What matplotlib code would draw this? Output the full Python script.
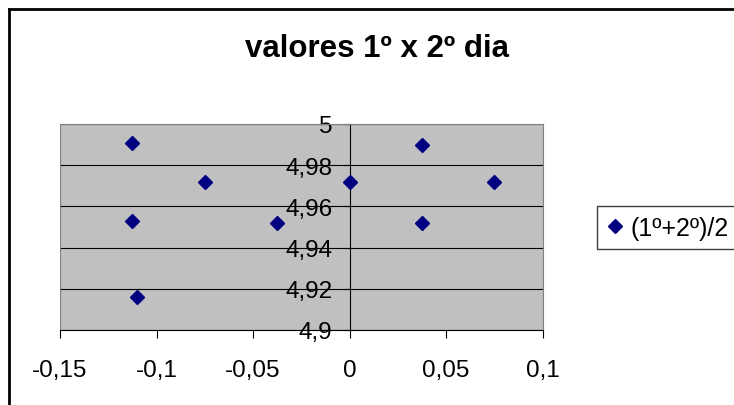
import matplotlib
matplotlib.use('Agg')
import matplotlib.pyplot as plt
from matplotlib.lines import Line2D
from matplotlib.patches import Rectangle

plt.rcParams['font.family'] = ['Liberation Sans', 'DejaVu Sans']

# data
x_vals = [-0.1125, -0.075, 0.0, -0.1125, -0.0375, -0.11, 0.0375, 0.075, 0.0375]
y_vals = [4.991, 4.972, 4.972, 4.953, 4.952, 4.916, 4.990, 4.972, 4.952]
serie = '(1º+2º)/2'
titulo = 'valores 1º x 2º dia'

x_ticks = [-0.15, -0.1, -0.05, 0, 0.05, 0.1]
x_labels = ['-0,15', '-0,1', '-0,05', '0', '0,05', '0,1']
y_ticks = [4.9, 4.92, 4.94, 4.96, 4.98, 5]
y_labels = ['4,9', '4,92', '4,94', '4,96', '4,98', '5']

fig = plt.figure(figsize=(7.34, 4.06), dpi=100)
fig.patch.set_facecolor('white')
ax = fig.add_axes([60 / 734, 1 - 331 / 406, 482.7 / 734, 206 / 406])
ax.set_facecolor('#C0C0C0')

ax.plot(x_vals, y_vals, linestyle='none', marker='D', markersize=7,
        color='#000080', label=serie, zorder=5)

# y axis crosses at x = 0 (set before the ticks, it resets them)
ax.spines['left'].set_position(('data', 0))
ax.spines['left'].set_color('black')
ax.spines['left'].set_linewidth(0.8)
ax.spines['bottom'].set_color('black')
ax.spines['bottom'].set_linewidth(0.8)
ax.spines['top'].set_color('#808080')
ax.spines['right'].set_color('#808080')
ax.axvline(-0.15, color='#808080', linewidth=1.5, zorder=3)

ax.set_xlim(-0.15, 0.1)
ax.set_ylim(4.9, 5)
ax.set_xticks(x_ticks)
ax.set_xticklabels(x_labels)
ax.set_yticks(y_ticks)
ax.set_yticklabels(y_labels)
ax.tick_params(axis='y', direction='out', length=4, width=0.8, pad=8.5, labelsize=17.5)
ax.tick_params(axis='x', direction='out', length=6, width=0.8, pad=15, labelsize=17.5)

ax.grid(axis='y', color='black', linewidth=0.8, zorder=1)
ax.set_axisbelow(True)

fig.text(0.513, 1 - 56.7 / 406, titulo, ha='center', va='baseline',
         fontsize=22.5, fontweight='bold')

leg = fig.legend(loc='center left', bbox_to_anchor=(607 / 734, 1 - 229 / 406),
                 fontsize=18, frameon=False, borderpad=0,
                 handlelength=0.6, handletextpad=0.35, borderaxespad=0)
# legend box runs off the right edge, as in the cropped original
fig.add_artist(Rectangle((597 / 734, 1 - 250 / 406), 200 / 734, 43 / 406,
                         transform=fig.transFigure, facecolor='none',
                         edgecolor='#404040', linewidth=1.0))

# outer chart frame (cropped on the right and bottom)
fig.add_artist(Line2D([9 / 734, 9 / 734], [0, 1 - 10 / 406], color='black', linewidth=2))
fig.add_artist(Line2D([9 / 734, 1], [1 - 10 / 406, 1 - 10 / 406], color='black', linewidth=2))

fig.savefig('out.png', dpi=100)
